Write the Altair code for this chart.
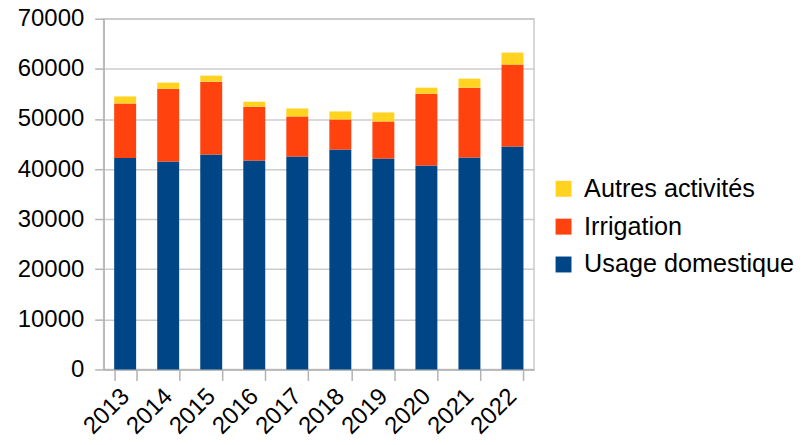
import altair as alt
import pandas as pd

years = ["2013", "2014", "2015", "2016", "2017", "2018", "2019", "2020", "2021", "2022"]
domestique = [42200, 41500, 42900, 41700, 42500, 43900, 42100, 40700, 42300, 44500]
irrigation = [10900, 14550, 14550, 10750, 8000, 6000, 7400, 14350, 13950, 16350]
autres = [1400, 1200, 1200, 1000, 1600, 1600, 1800, 1200, 1800, 2400]

series = ["Usage domestique", "Irrigation", "Autres activités"]
colors = ["#004586", "#ff420e", "#ffd320"]

rows = []
for i, y in enumerate(years):
    for k, (name, vals) in enumerate(zip(series, [domestique, irrigation, autres])):
        rows.append({"Année": y, "Série": name, "Valeur": vals[i], "ordre": k})
df = pd.DataFrame(rows)

FONT = "Liberation Sans"

chart = alt.Chart(df).mark_bar().encode(
    x=alt.X("Année:N", sort=years, title=None,
            scale=alt.Scale(paddingInner=0.49, paddingOuter=0.245),
            axis=alt.Axis(labelAngle=-45, labelAlign="right", labelBaseline="middle",
                          labelFontSize=24, labelFont=FONT, labelColor="#000000",
                          tickBand="extent", tickSize=11, tickColor="#b3b3b3", tickWidth=1.5,
                          domainColor="#b3b3b3", domainWidth=1.5, labelPadding=12,
                          grid=False)),
    y=alt.Y("Valeur:Q", stack="zero", title=None,
            scale=alt.Scale(domain=[0, 70000], nice=False),
            axis=alt.Axis(values=list(range(0, 70001, 10000)), format="d",
                          labelFontSize=24, labelFont=FONT,
                          labelColor="#000000", tickSize=9, tickColor="#b3b3b3", tickWidth=1.5,
                          domainColor="#b3b3b3", domainWidth=1.5, labelPadding=11,
                          gridColor="#cccccc", gridWidth=1.5)),
    color=alt.Color("Série:N",
                    scale=alt.Scale(domain=series[::-1], range=colors[::-1]),
                    legend=alt.Legend(title=None, orient="none", legendX=449, legendY=158,
                                      symbolType="square", symbolSize=256, symbolStrokeWidth=0,
                                      labelFontSize=25.3, labelFont=FONT, labelColor="#000000",
                                      labelOffset=8, rowPadding=12, labelLimit=0)),
    order=alt.Order("ordre:Q", sort="ascending"),
).properties(
    width=432, height=352,
    autosize=alt.AutoSizeParams(type="none"),
    padding={"left": 96, "top": 10, "right": 262, "bottom": 70},
).configure_view(stroke="#cccccc", strokeWidth=1.5)

chart.save("out.html", embed_options={"renderer": "svg", "actions": False})
